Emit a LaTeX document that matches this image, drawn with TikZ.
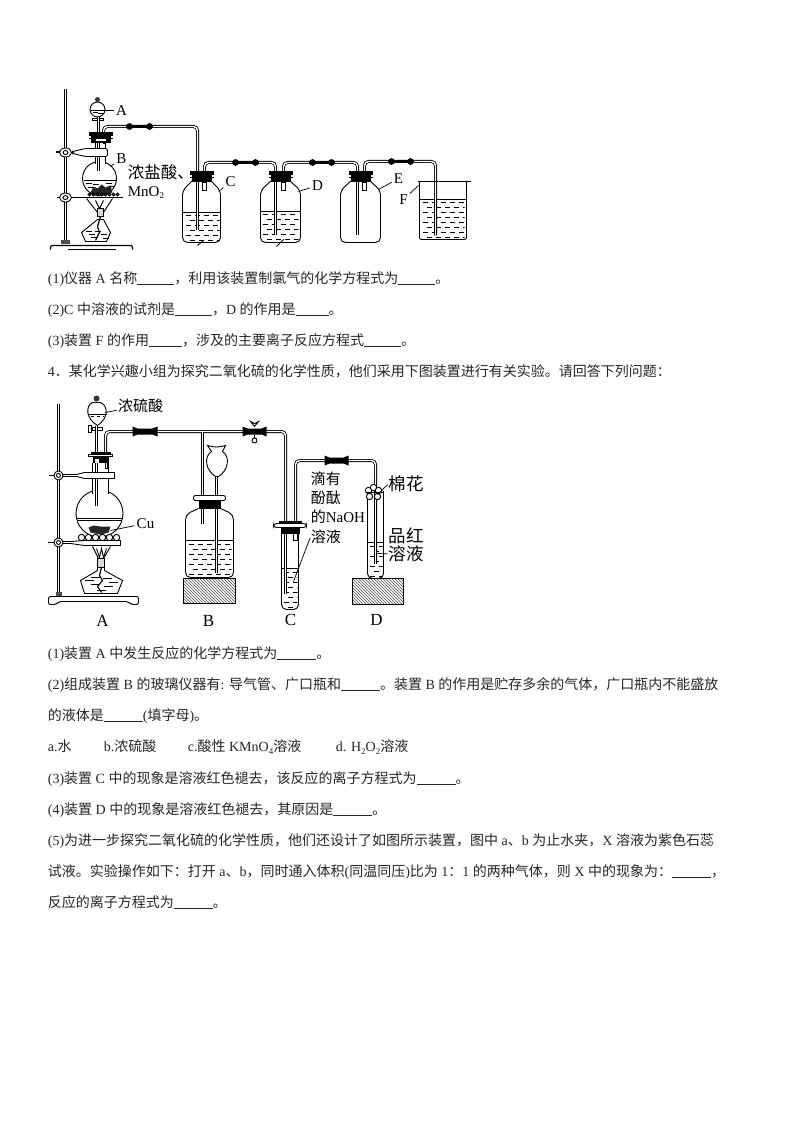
\documentclass[tikz,border=0pt]{standalone}
\usepackage{fontspec}
\setmainfont{Liberation Serif}
\newfontfamily\cjk{Noto Sans CJK SC}
\usetikzlibrary{patterns}
\newcommand{\zh}[1]{{\cjk #1}}
\newcommand{\blankline}[1]{\rule[-1.5pt]{#1pt}{0.7pt}}
\newcommand{\subnum}[1]{\raisebox{-2.5pt}{\fontsize{9}{9}\selectfont #1}}
\begin{document}
\begin{tikzpicture}[x=1pt,y=-1pt,line width=.8pt]
\tikzstyle{txt}=[anchor=base west,inner sep=0pt,font=\fontsize{14}{16}\selectfont,text=black!85]
\tikzstyle{lbl}=[inner sep=1pt,font=\fontsize{15}{17}\selectfont]
\tikzstyle{big}=[inner sep=1pt,font=\fontsize{17}{19}\selectfont]
\tikzstyle{captxt}=[anchor=base west,inner sep=0pt,font=\fontsize{15}{17}\selectfont]
\tikzstyle{capbig}=[anchor=base west,inner sep=0pt,font=\fontsize{17.5}{19}\selectfont]
\tikzstyle{lead}=[line width=.7pt,shorten <=1pt]
\tikzstyle{tube}=[double=white,double distance=1.4pt,line width=.8pt,rounded corners=4pt]
\tikzstyle{glass}=[line width=.9pt]
\tikzstyle{rubber}=[fill=black]
\tikzstyle{rod}=[double=white,double distance=1.4pt,line width=.8pt]
\tikzstyle{block}=[draw,thick,pattern=north west lines,pattern color=black!70]
\newcommand{\liquid}[4]{
\begin{scope}
\clip (#1,#3) rectangle (#2,#4);
\pgfmathtruncatemacro{\nrow}{(#4-#3)/5}
\pgfmathtruncatemacro{\ncol}{(#2-#1)/9}
\foreach \i in {0,...,\nrow} \foreach \j in {0,...,\ncol}
\draw[line width=.9pt] ({#1+1+9*\j+4*mod(\i,2)},{#3+3+5*\i}) -- ++(5,0);
\end{scope}}
\newcommand{\bottle}[4]{
\draw[glass,rounded corners=5pt,fill=white] (#1-9,#3-10) -- (#1-#2,#3) -- (#1-#2,#4) -- (#1+#2,#4) -- (#1+#2,#3) -- (#1+9,#3-10);}
\newcommand{\plug}[2]{
\fill[rubber] (#1-12,#2) rectangle (#1+12,#2+4);
\fill[rubber] (#1-10,#2+4) rectangle (#1+10,#2+11);
\draw[glass] (#1-12,#2+6) -- (#1-9,#2+6);
\draw[glass] (#1+12,#2+6) -- (#1+9,#2+6);}
\newcommand{\clampa}[3]{
\fill[rubber] (#1+2,#3-2) circle (3.4);
\fill[rubber] (#2-2,#3-2) circle (3.4);
\draw[line width=3pt] (#1+2,#3-2) -- (#2-2,#3-2);}
\newcommand{\clampb}[3]{
\fill[rubber] (#1,#3-5) -- (#1+5,#3-3) -- (#2-5,#3-3) -- (#2,#3-5) -- (#2,#3+5) -- (#2-5,#3+3) -- (#1+5,#3+3) -- (#1,#3+5) -- cycle;}
\newcommand{\boss}[3]{
\draw[glass,fill=white] (#1,#2) circle (#3);
\draw[glass,fill=white] (#1,#2) circle (#3*.45);}
\newcommand{\shortpipe}[3]{
\draw[glass,fill=white] (#1-2,#2) rectangle (#1+2,#3);}
\useasboundingbox (-.5,-.5) rectangle (793.5,1122.5);
\draw[rod] (65,89) -- (65,241);
\fill[black!70] (60,240) rectangle (69,244);
\draw[glass,rounded corners=2pt,line width=1.2pt] (50,249) -- (50,245) -- (132,245) -- (132,249);
\draw[line width=1.5pt] (67,249) -- (115,249);
\draw[tube] (103,137) -- (103,126) -- (197,126) -- (197,230);
\fill[black!80] (97,99) circle (2.5);
\draw[glass,fill=white] (97,109) circle (7.5);
\draw[glass] (90,110) -- (104,110);
\foreach \a/\b in {92/112,97/113} \draw[line width=.7pt] (\a,\b) -- ++(5,0);
\draw[glass,fill=white] (92,118) rectangle (103,120);
\draw[rod] (98,117) -- (98,137);
\draw[glass,fill=white] (99,178) circle (17);
\fill[white] (95,137) rectangle (105,164);
\draw[glass] (95,137) -- (95,164);
\draw[glass] (105,137) -- (105,164);
\draw[rod] (98,137) -- (98,171);
\plug{100}{132}
\fill[white] (95,139) rectangle (105,141);
\draw[glass] (103,141) rectangle (105,143);
\draw[glass] (83,180) -- (115,180);
\foreach \a/\b in {85/183,92/184,105/183,108/186,87/187} \draw[line width=.8pt] (\a,\b) -- ++(6,0);
\fill[black!85] (90,192) -- (93,186) -- (97,188) -- (101,184) -- (105,187) -- (110,185) -- (112,192) -- (105,194) -- (96,194) -- cycle;
\draw[line width=2pt] (55,152) -- (60,152);
\draw[glass,fill=white,rounded corners=2pt] (107,148) -- (107,156) -- (85,156) -- (72,153) -- (72,151) -- (85,148) -- cycle;
\draw[glass,fill=white] (65,152) ellipse (6 and 4.5);
\draw[glass,fill=white] (65,152) ellipse (2.5 and 2);
\draw[line width=1.8pt] (56,197) -- (122,197);
\draw[glass,fill=white] (65,197) ellipse (6 and 4.5);
\draw[glass,fill=white] (65,197) ellipse (2.5 and 2);
\foreach \a in {89,93,...,118} \draw[glass,fill=black!70] (\a,194) circle (1.5);
\draw[glass] (86,198) -- (97,212);
\draw[glass] (112,198) -- (103,212);
\draw[glass] (95,200) -- (99,208) -- (103,200);
\draw[glass,fill=black!15] (97,208) rectangle (103,216);
\draw[glass] (97,219) -- (81,232) -- (85,241) -- (106,241) -- (110,232) -- (103,219) -- cycle;
\foreach \a/\b in {85/231,88/234,90/237,94/231,100/234,102/238} \draw[line width=.7pt] (\a,\b) -- ++(6,0);
\draw[line width=1.2pt] (100,216) -- (97,226) -- (99,232) -- (95,240);
\node[lbl] (labelA) at (121,110) {A};
\node[lbl] (labelB) at (121,158) {B};
\node[lbl] (labelC) at (230,181) {C};
\node[lbl] (labelD) at (317,185) {D};
\node[lbl] (labelE) at (398,178) {E};
\node[lbl] (labelF) at (403,199) {F};
\node[captxt,font=\fontsize{16.5}{18}\selectfont] (hcl) at (127,178) {\zh{浓盐酸、}};
\node[captxt] (mno) at (127,196) {MnO\subnum{2}};
\coordinate (funnela) at (104,110);
\coordinate (flaskb) at (110,166);
\draw[lead] (labelA) -- (funnela);
\draw[lead] (labelB) -- (flaskb);
\draw[tube] (204,190) -- (204,162) -- (275,162) -- (275,235);
\draw[tube] (283,190) -- (283,162) -- (357,162) -- (357,235);
\draw[tube] (364,190) -- (364,161) -- (435,161) -- (435,235);
\bottle{201}{19}{190}{242}
\bottle{280}{20}{190}{242}
\bottle{360}{20}{190}{242}
\draw[glass] (182,212) -- (220,212);
\draw[glass] (260,211) -- (300,211);
\liquid{184}{219}{212}{240}
\liquid{261}{298}{211}{240}
\draw[rod] (197,182) -- (197,230);
\draw[rod] (275,182) -- (275,235);
\draw[rod] (357,182) -- (357,235);
\shortpipe{204}{182}{190}
\shortpipe{283}{182}{190}
\shortpipe{364}{182}{190}
\plug{201}{171}
\plug{280}{171}
\plug{360}{171}
\clampa{127}{151}{128}
\clampa{233}{257}{164}
\clampa{310}{333}{164}
\clampa{389}{412}{163}
\coordinate (bottlec) at (218,191);
\coordinate (bottled) at (298,191);
\coordinate (bottlee) at (378,189);
\coordinate (beakerf) at (418,185);
\draw[lead] (labelC) -- (bottlec);
\draw[lead] (labelD) -- (bottled);
\draw[lead] (labelE) -- (bottlee);
\draw[lead] (labelF) -- (beakerf);
\draw[glass] (197,245) -- (203,240);
\draw[glass] (276,246) -- (283,239);
\draw[glass] (417,181) -- (470,181);
\draw[glass,rounded corners=2pt] (419,181) -- (419,239) -- (466,239) -- (466,181);
\draw[glass] (419,199) -- (466,199);
\liquid{421}{464}{199}{237}
\draw[rod] (435,199) -- (435,235);
\node[txt] (q1a) at (47,283) {(1)\zh{仪器} A \zh{名称}\blankline{37}\zh{，利用该装置制氯气的化学方程式为}\blankline{37}\zh{。}};
\node[txt] (q1b) at (47,314) {(2)C \zh{中溶液的试剂是}\blankline{37}\zh{，}D \zh{的作用是}\blankline{33}\zh{。}};
\node[txt] (q1c) at (47,345) {(3)\zh{装置} F \zh{的作用}\blankline{33}\zh{，涉及的主要离子反应方程式}\blankline{37}\zh{。}};
\node[txt] (q4) at (47,376) {4\zh{．某化学兴趣小组为探究二氧化硫的化学性质，他们采用下图装置进行有关实验。请回答下列问题：}};
\draw[rod] (58,403) -- (58,592);
\fill[black!70] (55,591) rectangle (61,595);
\draw[glass,fill=white,rounded corners=2pt] (48,596) -- (138,596) -- (138,604) -- (130,604) -- (128,601) -- (58,601) -- (56,604) -- (48,604) -- cycle;
\draw[tube] (105,465) -- (105,431) -- (285,431) -- (285,593);
\draw[tube] (202,431) -- (202,523);
\fill[black!80] (96,398) circle (3);
\draw[glass,fill=white] (92,402) -- (100,402) .. controls (108,405) and (108,418) .. (97,425) .. controls (85,418) and (85,405) .. (92,402) -- cycle;
\draw[glass] (87,414) -- (106,414);
\draw[line width=.7pt,dashed] (90,416) -- (103,416);
\draw[glass,fill=white] (92,427) rectangle (102,430);
\draw[glass,fill=white] (88,425) rectangle (91,432);
\draw[rod] (96,425) -- (96,450);
\draw[glass,fill=white] (99,513) circle (23.5);
\fill[white] (92,462) rectangle (108,495);
\draw[glass] (92,462) -- (92,493);
\draw[glass] (108,462) -- (108,493);
\draw[rod] (96,450) -- (96,505);
\draw[glass] (76,518) -- (122,518);
\draw[glass] (77,520) -- (121,520);
\fill[rubber] (90,451) rectangle (110,455);
\draw[glass,fill=white] (88,454) rectangle (112,456);
\fill[rubber] (92,456) rectangle (108,462);
\fill[white] (94,458) rectangle (98,462);
\draw[glass] (105,462) rectangle (107,468);
\fill[black!85] (88,527) -- (93,525) -- (100,526) -- (110,526) -- (108,532) -- (100,534) -- (90,532) -- cycle;
\draw[glass,fill=white] (114,472) -- (114,478) -- (84,478) -- (76,476) -- (62,476) -- (62,474) -- (76,474) -- (84,472) -- cycle;
\draw[glass] (48,475) -- (54,475);
\boss{58}{475}{4.5}
\draw[glass,fill=white] (120,540) -- (120,545) -- (84,545) -- (70,543) -- (62,543) -- (62,541) -- (70,541) -- (84,540) -- cycle;
\draw[glass] (47,542) -- (54,542);
\boss{58}{542}{4.5}
\foreach \a in {81,88,...,119} \draw[glass,fill=white] (\a,537) circle (3.2);
\draw[glass] (92,546) -- (98,558);
\draw[glass] (110,546) -- (103,558);
\draw[glass] (96,548) -- (99,557) -- (101,548) -- (103,557) -- (106,548);
\draw[glass,fill=black!15] (97,558) rectangle (104,567);
\draw[glass] (97,567) -- (97,570) -- (80,580) -- (84,593) -- (117,593) -- (122,580) -- (104,570) -- (104,567);
\foreach \a/\b in {84/580,90/577,102/578,108/582,90/584,103/586,96/590} \draw[glass] (\a,\b) -- ++(9,0);
\draw[line width=1.1pt] (101,567) -- (99,575) -- (102,580) -- (97,586) -- (101,592);
\node[lbl,inner sep=0pt] (sulfuric) at (140,405) {\zh{浓硫酸}};
\node[lbl] (copper) at (145,523) {Cu};
\coordinate (funnelb) at (105,412);
\coordinate (cubed) at (110,530);
\draw[lead] (sulfuric) -- (funnelb);
\draw[lead] (copper) -- (cubed);
\draw[glass,rounded corners=5pt,fill=white] (198,508) -- (185,514) -- (185,577) -- (233,577) -- (233,514) -- (220,508);
\draw[glass] (185,540) -- (233,540);
\liquid{187}{231}{541}{575}
\draw[glass,fill=white] (207,445) .. controls (214,447) and (218,447) .. (225,445) -- (222,451) .. controls (230,456) and (228,470) .. (218,476) -- (215,476) .. controls (205,470) and (203,456) .. (211,451) -- cycle;
\draw[rod] (216,476) -- (216,572);
\draw[rod] (202,508) -- (202,523);
\draw[glass,fill=white,rounded corners=2pt] (193,495) rectangle (225,500);
\fill[rubber] (198,500) rectangle (220,508);
\node[block,minimum width=52pt,minimum height=25pt,inner sep=0pt] (blockb) at (209,590.5) {};
\clampb{132}{157}{431}
\clampb{242}{266}{431}
\draw[glass] (254,426) -- (250,421) -- (254,423) -- (258,421) -- (254,426);
\draw[glass,fill=white] (254,440) circle (2.5);
\draw[glass] (254,434) -- (254,437);
\draw[tube] (295,540) -- (295,460) -- (375,460) -- (375,563);
\draw[glass,fill=white,rounded corners=5pt] (281,533) -- (281,609) -- (298,609) -- (298,533);
\draw[glass] (281,568) -- (298,568);
\liquid{282}{297}{569}{607}
\draw[rod] (285,533) -- (285,593);
\draw[glass,fill=white] (293,533) rectangle (297,540);
\fill[rubber] (278,520) rectangle (301,523);
\draw[glass,fill=white,rounded corners=3pt] (273,523) rectangle (306,527);
\fill[rubber] (280,527) rectangle (299,533);
\clampb{324}{348}{460}
\draw[glass,rounded corners=5pt] (367,490) -- (367,578) -- (383,578) -- (383,490);
\draw[glass] (367,542) -- (383,542);
\liquid{368}{382}{543}{576}
\draw[rod] (375,492) -- (375,563);
\foreach \a/\b in {368/490,373/487,378/490,369/496,377/496} \draw[glass,fill=white] (\a,\b) circle (3.2);
\draw[glass] (366,492) -- (383,492);
\node[block,minimum width=51pt,minimum height=26pt,inner sep=0pt] (blockd) at (377.5,591) {};
\node[captxt] (dropa) at (310,484) {\zh{滴有}};
\node[captxt] (dropb) at (310,503) {\zh{酚酞}};
\node[captxt] (dropc) at (310,522) {\zh{的}NaOH};
\node[captxt] (dropd) at (310,542) {\zh{溶液}};
\node[capbig] (cotton) at (388,490) {\zh{棉花}};
\node[capbig] (reda) at (388,542) {\zh{品红}};
\node[capbig] (redb) at (388,560) {\zh{溶液}};
\coordinate (cottonend) at (377,494);
\coordinate (redend) at (377,553);
\coordinate (soluend) at (293,581);
\draw[lead] (cotton.west) -- (cottonend);
\draw[lead] (redb.west) -- (redend);
\draw[lead] (dropd.west) -- (soluend);
\node[big] (figa) at (102,620) {A};
\node[big] (figb) at (208,620) {B};
\node[big] (figc) at (290,619) {C};
\node[big] (figd) at (376,619) {D};
\node[txt] (q2a) at (47,658) {(1)\zh{装置} A \zh{中发生反应的化学方程式为}\blankline{39}\zh{。}};
\node[txt] (q2b) at (47,689) {(2)\zh{组成装置} B \zh{的玻璃仪器有}: \zh{导气管、广口瓶和}\blankline{39}\zh{。装置} B \zh{的作用是贮存多余的气体，广口瓶内不能盛放}};
\node[txt] (q2c) at (47,720) {\zh{的液体是}\blankline{39}(\zh{填字母})\zh{。}};
\node[txt] (q2d) at (47,751) {a.\zh{水}};
\node[txt] (q2e) at (103,751) {b.\zh{浓硫酸}};
\node[txt] (q2f) at (187,751) {c.\zh{酸性} KMnO\subnum{4}\zh{溶液}};
\node[txt] (q2g) at (335,751) {d. H\subnum{2}O\subnum{2}\zh{溶液}};
\node[txt] (q3a) at (47,783) {(3)\zh{装置} C \zh{中的现象是溶液红色褪去，该反应的离子方程式为}\blankline{39}\zh{。}};
\node[txt] (q4a) at (47,814) {(4)\zh{装置} D \zh{中的现象是溶液红色褪去，其原因是}\blankline{39}\zh{。}};
\node[txt] (q5a) at (47,845) {(5)\zh{为进一步探究二氧化硫的化学性质，他们还设计了如图所示装置，图中} a\zh{、}b \zh{为止水夹，}X \zh{溶液为紫色石蕊}};
\node[txt] (q5b) at (47,876) {\zh{试液。实验操作如下：打开} a\zh{、}b\zh{，同时通入体积}(\zh{同温同压})\zh{比为} 1\zh{：}1 \zh{的两种气体，则} X \zh{中的现象为：}\blankline{39}\zh{，}};
\node[txt] (q5c) at (47,907) {\zh{反应的离子方程式为}\blankline{39}\zh{。}};
\end{tikzpicture}
\end{document}
